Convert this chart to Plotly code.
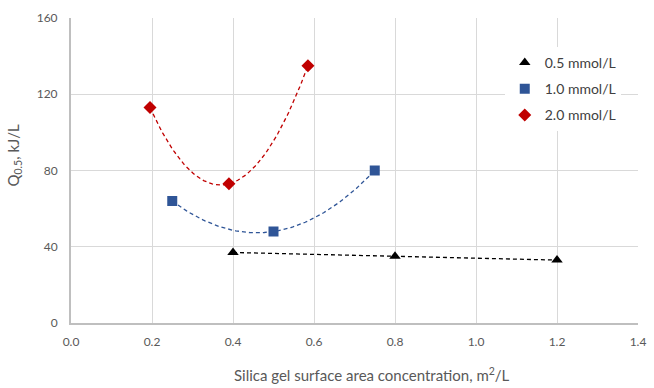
import numpy as np
import plotly.graph_objects as go

# Data
series_names = ["0.5 mmol/L", "1.0 mmol/L", "2.0 mmol/L"]
x_05 = [0.4, 0.8, 1.2]
y_05 = [37, 35, 33]
x_10 = [0.25, 0.5, 0.75]
y_10 = [64, 48, 80]
x_20 = [0.195, 0.39, 0.585]
y_20 = [113, 73, 135]

colors = ["#000000", "#2F5597", "#C00000"]
symbols = ["triangle-up", "square", "diamond"]
degrees = [1, 2, 2]

fig = go.Figure()
datasets = [(x_05, y_05), (x_10, y_10), (x_20, y_20)]

# trendlines (fits of the data)
for (xs, ys), c, d in zip(datasets, colors, degrees):
    coef = np.polyfit(xs, ys, d)
    xx = np.linspace(min(xs), max(xs), 100)
    fig.add_trace(go.Scatter(x=xx, y=np.polyval(coef, xx), mode="lines",
                             line=dict(color=c, width=1.3, dash="4px,3px"),
                             showlegend=False, hoverinfo="skip"))

for i, ((xs, ys), name, c, s) in enumerate(zip(datasets, series_names, colors, symbols)):
    fig.add_trace(go.Scatter(x=xs, y=ys, mode="markers", name=name,
                             legendgroup=f"g{i}",
                             marker=dict(color=c, symbol=s, size=10)))

font = "Lato, Open Sans, sans-serif"
fig.update_layout(
    width=654, height=388,
    margin=dict(l=71, r=16, t=18, b=65, autoexpand=False),
    paper_bgcolor="white", plot_bgcolor="white",
    font=dict(family=font, color="#595959", size=12),
    legend=dict(x=0.765, y=0.905, xanchor="left", yanchor="top",
                bgcolor="white", font=dict(size=14, color="#404040"),
                itemwidth=30, tracegroupgap=5),
    xaxis=dict(range=[0, 1.4], dtick=0.2, tickformat=".1f",
               showgrid=True, gridcolor="#D9D9D9", gridwidth=1,
               showline=True, linecolor="#BFBFBF", linewidth=2,
               zeroline=False, ticks="", ticklabelstandoff=7, automargin=False),
    yaxis=dict(range=[0, 160], dtick=40,
               showgrid=True, gridcolor="#D9D9D9", gridwidth=1,
               showline=True, linecolor="#BFBFBF", linewidth=2,
               zeroline=False, ticks="", ticklabelstandoff=9, automargin=False),
    annotations=[
        dict(text="Silica gel surface area concentration, m<sup>2</sup>/L",
             xref="paper", yref="paper", x=0.53, y=-0.168,
             xanchor="center", yanchor="middle", showarrow=False,
             font=dict(size=15, color="#595959")),
        dict(text="Q<sub>0.5</sub>, kJ/L",
             xref="paper", yref="paper", x=-0.1, y=0.55, textangle=-90,
             xanchor="center", yanchor="middle", showarrow=False,
             font=dict(size=15, color="#595959")),
    ],
)

fig.write_html("out.html")
